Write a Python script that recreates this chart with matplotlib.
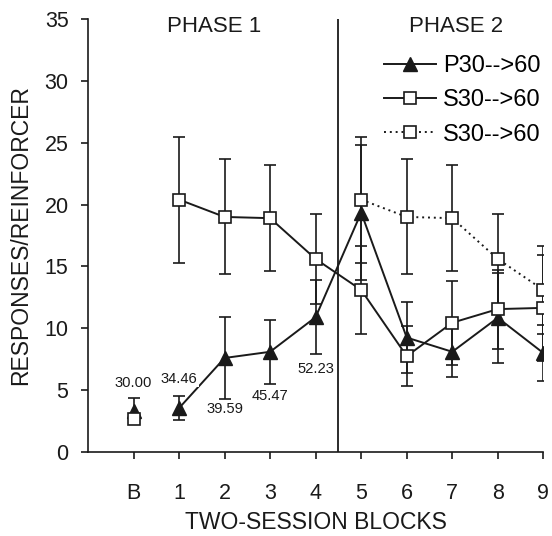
import numpy as np
import matplotlib.pyplot as plt

plt.rcParams['font.family'] = ['Liberation Sans', 'DejaVu Sans']

# bloques de dos sesiones: B = linea base, luego 1..9
bloques = ['B', '1', '2', '3', '4', '5', '6', '7', '8', '9']
x_base = 0
x_bloques = [1, 2, 3, 4, 5, 6, 7, 8, 9]

# P30-->60 (triangulos)
p_base = 3.35
p_base_err = 1.0
p_vals = [3.55, 7.6, 8.1, 10.9, 19.35, 9.25, 8.1, 10.85, 8.0]
p_err = [0.95, 3.3, 2.6, 3.0, 5.45, 2.9, 2.0, 3.65, 2.3]

# S30-->60 (cuadrados, linea continua)
s_base = 2.7
s_base_err = 0.4
s_vals = [20.4, 19.0, 18.9, 15.6, 13.1, 7.75, 10.45, 11.55, 11.65]
s_err = [5.1, 4.65, 4.3, 3.65, 3.55, 2.4, 3.4, 3.2, 4.3]

# S30-->60 (cuadrados, punteada) en la fase 2
s2_x = [5, 6, 7, 8, 9]
s2_vals = [20.4, 19.0, 18.9, 15.6, 13.1]
s2_err = [5.1, 4.65, 4.3, 3.65, 3.55]

# etiquetas de tasa debajo/encima de los puntos
tasas = ['30.00', '34.46', '39.59', '45.47', '52.23']
tasa_x = [0, 1, 2, 3, 4]
tasa_y = [5.6, 5.9, 3.5, 4.5, 6.7]

negro = '#1a1a1a'

fig = plt.figure(figsize=(5.52, 5.36), dpi=100)
ax = fig.add_axes([0.1594, 0.1567, 0.8249, 0.8079])

ax.axvline(4.5, color=negro, lw=1.3, zorder=1)

eb = dict(fmt='none', ecolor=negro, elinewidth=1.2, capsize=4.5, capthick=1.2, zorder=2)
ax.errorbar([x_base], [p_base], yerr=[p_base_err], **eb)
ax.errorbar(x_bloques, p_vals, yerr=p_err, **eb)
ax.errorbar([x_base], [s_base], yerr=[s_base_err], **eb)
ax.errorbar(x_bloques, s_vals, yerr=s_err, **eb)
ax.errorbar(s2_x, s2_vals, yerr=s2_err, **eb)

tri = dict(marker='^', ms=10, color=negro, mfc=negro, mec=negro, lw=1.4)
cua = dict(marker='s', ms=8, color=negro, mfc='white', mec=negro, mew=1.2, lw=1.4)

ax.plot([x_base], [p_base], ls='none', zorder=3, **tri)
l1, = ax.plot(x_bloques, p_vals, ls='-', zorder=3, label='P30-->60', **tri)
ax.plot([x_base], [s_base], ls='none', zorder=4, **cua)
l2, = ax.plot(x_bloques, s_vals, ls='-', zorder=4, label='S30-->60', **cua)
l3, = ax.plot(s2_x, s2_vals, ls=(0, (1, 2)), zorder=4, label='S30-->60', **cua)

for t, xx, yy in zip(tasas, tasa_x, tasa_y):
    ax.text(xx, yy, t, ha='center', va='center', fontsize=10.6, color=negro,
            bbox=dict(facecolor='white', edgecolor='none', pad=1), zorder=5)

ax.text(1.78, 34.4, 'PHASE 1', ha='center', va='center', fontsize=16, color=negro)
ax.text(7.08, 34.4, 'PHASE 2', ha='center', va='center', fontsize=16, color=negro)

ax.set_xlim(-1, 9)
ax.set_ylim(0, 35)
ax.set_xticks(range(10))
ax.set_xticklabels(bloques)
ax.set_yticks(np.arange(0, 36, 5))

ax.spines['top'].set_visible(False)
ax.spines['right'].set_visible(False)
for s in ['left', 'bottom']:
    ax.spines[s].set_linewidth(1.2)
    ax.spines[s].set_color(negro)

ax.tick_params(axis='both', direction='out', length=5, width=1.2, colors=negro, labelsize=15.5)
ax.tick_params(axis='y', pad=9)
ax.tick_params(axis='x', pad=17)

ax.set_xlabel('TWO-SESSION BLOCKS', fontsize=16.5, color=negro, labelpad=5)
ax.set_ylabel('RESPONSES/REINFORCER', fontsize=16.5, color=negro, labelpad=9)

fig.legend(handles=[l1, l2, l3], loc='upper left', bbox_to_anchor=(384 / 552, 1 - 55 / 536),
           frameon=False, fontsize=17, handlelength=2.2, handletextpad=0.3,
           labelspacing=0.52, borderpad=0, borderaxespad=0, numpoints=1)

fig.savefig('out.png', dpi=100)
